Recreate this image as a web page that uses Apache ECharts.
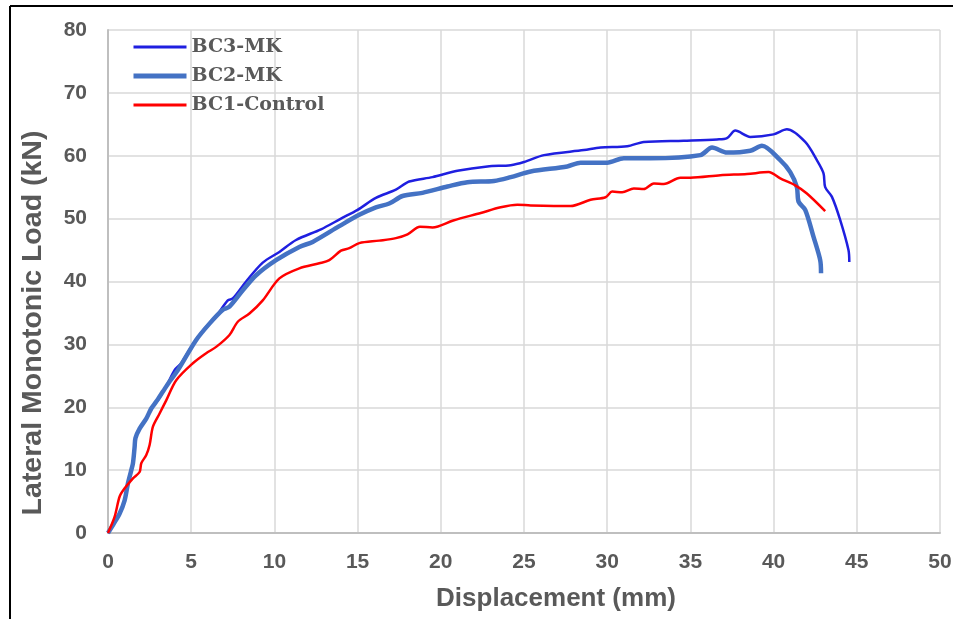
<!DOCTYPE html>
<html>
<head>
<meta charset="utf-8">
<script src="https://cdn.jsdelivr.net/npm/echarts@6/dist/echarts.min.js"></script>
<style>
html,body{margin:0;padding:0;background:#fff;}
#chart{width:958px;height:619px;}
</style>
</head>
<body>
<div id="chart"></div>
<script>
const seriesNames = ['BC3-MK', 'BC2-MK', 'BC1-Control'];
const xTicks = [0, 5, 10, 15, 20, 25, 30, 35, 40, 45, 50];
const yTicks = [0, 10, 20, 30, 40, 50, 60, 70, 80];

const bc3Data = [
  [0,0],[0.35,1.5],[0.7,3.1],[1.0,5.2],[1.2,7.9],[1.4,10],[1.5,11.1],[1.6,13.7],[1.65,15.1],
  [1.9,16.6],[2.3,18.2],[2.6,19.8],[3.0,21.1],[3.5,23.3],[4.0,25.9],[4.4,27.0],[5.0,29.6],
  [5.5,31.5],[5.9,32.8],[6.4,34.1],[7.2,37.0],[7.5,37.3],[8.3,40.0],[9.3,43.0],[10.3,44.7],
  [11.3,46.6],[12.8,48.3],[14.0,50.0],[15.0,51.4],[16.1,53.3],[17.3,54.6],[18.1,55.9],
  [19.5,56.6],[21.0,57.6],[22.8,58.3],[24.2,58.5],[25.0,59.0],[26.2,60.1],[28.6,60.9],
  [29.6,61.3],[31.2,61.5],[32.2,62.2],[34.6,62.4],[36.6,62.6],[37.2,62.8],[37.7,64.0],
  [38.6,63.0],[40.0,63.4],[40.8,64.2],[41.9,62.2],[42.6,59.3],[43.0,57.2],[43.1,55.0],
  [43.5,53.5],[44.0,49.8],[44.5,45.0],[44.55,43.1]
];
const bc2Data = [
  [0,0],[0.35,1.5],[0.7,3.1],[1.0,5.2],[1.2,7.9],[1.4,10],[1.5,11.1],[1.6,13.7],[1.65,15.1],
  [1.9,16.6],[2.3,18.2],[2.6,19.8],[2.9,20.9],[3.3,22.5],[3.7,24.1],[4.2,25.9],[5.3,30.7],
  [6.1,33.3],[6.9,35.5],[7.3,36.0],[8.1,38.6],[8.9,41.0],[10.1,43.4],[11.5,45.5],[12.3,46.3],
  [13.9,48.8],[15.1,50.6],[16.1,51.8],[16.9,52.4],[17.7,53.6],[18.9,54.1],[20.4,55.1],
  [21.6,55.8],[23.2,56.0],[24.2,56.6],[25.4,57.5],[27.6,58.3],[28.4,58.9],[30.0,58.9],
  [31.0,59.6],[32.6,59.6],[35.6,60.1],[36.3,61.3],[37.2,60.5],[38.6,60.8],[39.3,61.6],
  [40.4,59.3],[41.0,57.4],[41.4,55.0],[41.5,52.7],[41.9,51.4],[42.4,47.1],[42.8,43.4],
  [42.85,41.3]
];
const bc1Data = [
  [0,0],[0.4,2.6],[0.7,5.8],[1.0,7.1],[1.5,8.7],[1.9,9.7],[2.0,11.1],[2.3,12.4],[2.5,14.0],
  [2.7,16.9],[3.1,19.0],[3.5,21.1],[4.1,24.3],[5.1,27.0],[5.9,28.6],[6.5,29.6],[7.3,31.5],
  [7.8,33.6],[8.5,34.9],[9.3,37.0],[10.3,40.5],[11.5,42.1],[12.7,42.9],[13.3,43.4],
  [14.0,44.9],[14.5,45.3],[15.1,46.1],[16.3,46.5],[17.3,46.9],[18.0,47.5],[18.75,48.7],
  [19.5,48.6],[20.75,49.7],[22.4,50.9],[23.6,51.8],[24.6,52.2],[25.4,52.1],[27.8,52.0],
  [29.0,53.0],[29.9,53.4],[30.3,54.3],[30.9,54.2],[31.6,54.8],[32.2,54.7],[32.8,55.6],
  [33.4,55.5],[34.4,56.5],[35.0,56.5],[36.8,56.9],[38.4,57.1],[39.7,57.4],[40.4,56.4],
  [41.3,55.3],[42.0,54.0],[43.1,51.2]
];

const colors = ['#1f1fe0', '#4472c4', '#ff0000'];
const widths = [2.5, 4.5, 2.5];
const legendWidths = [3, 5, 3];

const chart = echarts.init(document.getElementById('chart'), null, {renderer: 'canvas'});
const labelFont = {color: '#595959', fontFamily: 'Liberation Sans, Arial, sans-serif', fontWeight: 'bold', fontSize: 21};

chart.setOption({
  animation: false,
  backgroundColor: '#ffffff',
  grid: {left: 108, right: 18, top: 30, bottom: 86, containLabel: false},
  legend: {
    orient: 'vertical', left: 131, top: 37, padding: 0,
    itemWidth: 53, itemHeight: 14, itemGap: 9,
    selectedMode: false,
    itemStyle: {opacity: 0},
    data: seriesNames.map((n, i) => ({name: n, lineStyle: {color: colors[i], width: legendWidths[i]}})),
    textStyle: {color: '#595959', fontFamily: 'DejaVu Serif, serif', fontWeight: 'bold', fontSize: 19, lineHeight: 20}
  },
  xAxis: {
    type: 'value', min: xTicks[0], max: xTicks[xTicks.length - 1], interval: 5,
    axisLine: {show: true, lineStyle: {color: '#bfbfbf', width: 2}},
    axisTick: {show: false},
    axisLabel: Object.assign({margin: 19}, labelFont),
    splitLine: {show: true, lineStyle: {color: '#d9d9d9', width: 1.5}}
  },
  yAxis: {
    type: 'value', min: yTicks[0], max: yTicks[yTicks.length - 1], interval: 10,
    axisLine: {show: true, lineStyle: {color: '#bfbfbf', width: 2}},
    axisTick: {show: false},
    axisLabel: Object.assign({margin: 21}, labelFont),
    splitLine: {show: true, lineStyle: {color: '#d9d9d9', width: 1.5}}
  },
  graphic: [
    {type: 'line', shape: {x1: 10, y1: 6, x2: 953, y2: 6}, style: {stroke: '#000', lineWidth: 2}},
    {type: 'line', shape: {x1: 10, y1: 6, x2: 10, y2: 619}, style: {stroke: '#000', lineWidth: 2}},
    {type: 'text', x: 556, y: 599, style: {text: 'Displacement (mm)', fill: '#595959', font: 'bold 26px "Liberation Sans", Arial, sans-serif', textAlign: 'center', textVerticalAlign: 'middle'}},
    {type: 'text', x: 33, y: 323, rotation: Math.PI / 2, style: {text: 'Lateral Monotonic Load (kN)', fill: '#595959', font: 'bold 28.5px "Liberation Sans", Arial, sans-serif', textAlign: 'center', textVerticalAlign: 'middle'}}
  ],
  series: [
    {name: seriesNames[0], type: 'line', data: bc3Data, symbol: 'none', smooth: 0.3, z: 2,
     lineStyle: {color: colors[0], width: widths[0]}, itemStyle: {color: colors[0]}},
    {name: seriesNames[1], type: 'line', data: bc2Data, symbol: 'none', smooth: 0.3, z: 3,
     lineStyle: {color: colors[1], width: widths[1]}, itemStyle: {color: colors[1]}},
    {name: seriesNames[2], type: 'line', data: bc1Data, symbol: 'none', smooth: 0.3, z: 4,
     lineStyle: {color: colors[2], width: widths[2]}, itemStyle: {color: colors[2]}}
  ]
});
</script>
</body>
</html>
